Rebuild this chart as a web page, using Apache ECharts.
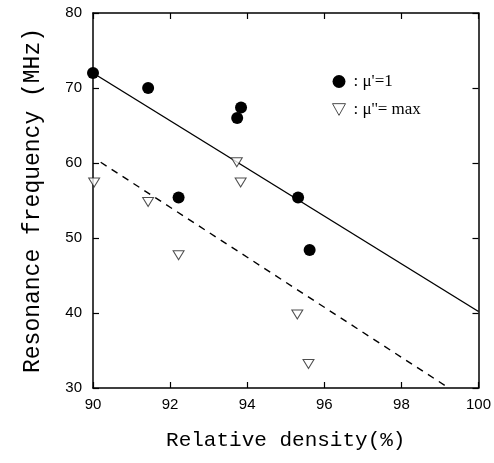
<!DOCTYPE html>
<html>
<head>
<meta charset="utf-8">
<script src="https://cdn.jsdelivr.net/npm/echarts@6/dist/echarts.min.js"></script>
<style>html,body{margin:0;padding:0;background:#fff;}#c{width:494px;height:463px;}</style>
</head>
<body>
<div id="c"></div>
<script>
// data
const xTicks = [90, 92, 94, 96, 98, 100];
const yTicks = [30, 40, 50, 60, 70, 80];
const densityOne = [90.0, 91.43, 92.22, 93.74, 93.84, 95.32, 95.62];
const freqOne    = [72.0, 70.0, 55.4, 66.0, 67.4, 55.4, 48.4];
const densityMax = [90.03, 91.43, 92.22, 93.73, 93.83, 95.30, 95.59];
const freqMax    = [57.4, 54.8, 47.7, 60.1, 57.4, 39.8, 33.2];
const fitOneX = [90, 100];
const fitOneY = [72.0, 40.2];
const fitMaxX = [90.2, 99.2];
const fitMaxY = [60.1, 30.1];
const nameOne = "μ'=1";
const nameMax = "μ''= max";

const zip = (a, b) => a.map((v, i) => [v, b[i]]);
const tri = 'path://M0,0 L10,0 L5,9 Z';

const chart = echarts.init(document.getElementById('c'));
const axisCommon = {
  axisLine: {lineStyle: {color: '#000', width: 1.5}},
  axisTick: {inside: true, length: 6, lineStyle: {color: '#000', width: 1.2}},
  splitLine: {show: false}
};
chart.setOption({
  animation: false,
  backgroundColor: '#fff',
  grid: {left: 93, right: 13, top: 13, bottom: 75, containLabel: false},
  legend: {
    orient: 'vertical', left: 327, top: 68, itemGap: 11,
    itemWidth: 13, itemHeight: 13,
    formatter: n => ': ' + n,
    textStyle: {fontFamily: 'Liberation Serif', fontSize: 17, color: '#000', padding: [0, 0, 0, 3]},
    data: [
      {name: nameOne, icon: 'circle', itemStyle: {color: '#000', borderWidth: 0}},
      {name: nameMax, icon: tri, itemStyle: {color: '#fff', borderColor: '#222', borderWidth: 1}}
    ]
  },
  xAxis: [
    Object.assign({type: 'value', min: 90, max: 100, interval: 2, position: 'bottom',
      name: 'Relative density(%)', nameLocation: 'middle', nameGap: 42,
      nameTextStyle: {fontFamily: 'Liberation Mono', fontSize: 21, color: '#000'},
      axisLabel: {color: '#000', fontFamily: 'Liberation Sans', fontSize: 15, margin: 9,
        formatter: v => xTicks.includes(v) ? String(v) : ''}}, axisCommon),
    Object.assign({type: 'value', min: 90, max: 100, interval: 2, position: 'top',
      axisLabel: {show: false}}, axisCommon)
  ],
  yAxis: [
    Object.assign({type: 'value', min: 30, max: 80, interval: 10, position: 'left',
      name: 'Resonance frequency (MHz)', nameLocation: 'middle', nameGap: 49,
      nameTextStyle: {fontFamily: 'Liberation Mono', fontSize: 23, color: '#000'},
      axisLabel: {color: '#000', fontFamily: 'Liberation Sans', fontSize: 15, margin: 11,
        formatter: v => yTicks.includes(v) ? String(v) : ''}}, axisCommon),
    Object.assign({type: 'value', min: 30, max: 80, interval: 10, position: 'right',
      axisLabel: {show: false}}, axisCommon)
  ],
  series: [
    {type: 'line', data: zip(fitOneX, fitOneY), symbol: 'none', silent: true,
      lineStyle: {color: '#000', width: 1.4}, z: 1},
    {type: 'line', data: zip(fitMaxX, fitMaxY), symbol: 'none', silent: true,
      lineStyle: {color: '#000', width: 1.4, type: [7, 6]}, z: 1},
    {name: nameOne, type: 'scatter', data: zip(densityOne, freqOne), symbol: 'circle', symbolSize: 12,
      itemStyle: {color: '#000', opacity: 1}, z: 3},
    {name: nameMax, type: 'scatter', data: zip(densityMax, freqMax), symbol: tri, symbolSize: [11, 9],
      itemStyle: {color: '#fff', borderColor: '#222', borderWidth: 1}, z: 3}
  ]
});
</script>
</body>
</html>
